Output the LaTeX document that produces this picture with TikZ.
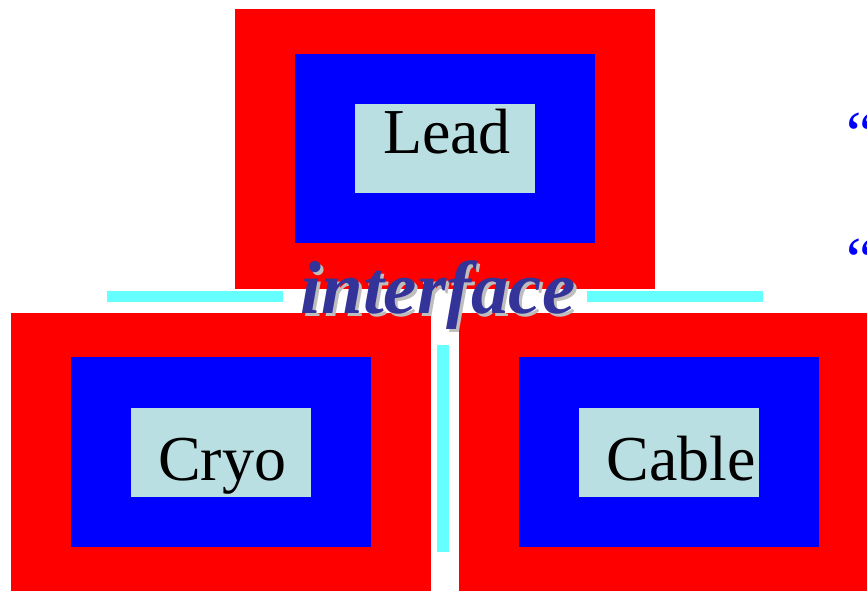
\documentclass[tikz,border=0pt]{standalone}
\usepackage{fontspec}
\setmainfont{Liberation Serif}
\definecolor{framered}{RGB}{255,0,0}
\definecolor{coreblue}{RGB}{0,0,255}
\definecolor{labelbg}{RGB}{186,223,227}
\definecolor{barcyan}{RGB}{102,255,255}
\definecolor{ifaceblue}{RGB}{51,51,153}
\definecolor{shadowgray}{RGB}{190,190,190}
\tikzset{
  panel/.style={fill=#1, draw=none, anchor=north west, inner sep=0pt, outer sep=0pt},
  boxlabel/.style={font=\fontsize{64}{70}\selectfont, text=black, anchor=base},
  bar/.style={fill=barcyan, draw=none},
  quote/.style={font=\fontsize{64}{70}\selectfont, text=coreblue, anchor=base west, inner sep=0pt},
  ifacetext/.style={font=\fontsize{75}{82}\selectfont\bfseries\itshape, anchor=base, inner sep=0pt},
}
\begin{document}
\begin{tikzpicture}[x=1pt, y=-1pt]
\useasboundingbox (0,0) rectangle (867,590);
\clip (0,0) rectangle (867,590);

% Top module: Lead
\node[panel=framered, minimum width=420pt, minimum height=280pt] (leadframe) at (235,9) {};
\node[panel=coreblue, minimum width=300pt, minimum height=189pt] (leadcore) at (295,54) {};
\node[panel=labelbg, minimum width=180pt, minimum height=89pt] (leadbg) at (355,104) {};
\node[boxlabel] (leadtxt) at (447,153) {Lead};

% Lower left module: Cryo
\node[panel=framered, minimum width=420pt, minimum height=280pt] (cryoframe) at (11,313) {};
\node[panel=coreblue, minimum width=300pt, minimum height=190pt] (cryocore) at (71,357) {};
\node[panel=labelbg, minimum width=180pt, minimum height=89pt] (cryobg) at (131,408) {};
\node[boxlabel] (cryotxt) at (222,480) {Cryo};

% Lower right module: Cable
\node[panel=framered, minimum width=420pt, minimum height=280pt] (cableframe) at (459,313) {};
\node[panel=coreblue, minimum width=300pt, minimum height=190pt] (cablecore) at (519,357) {};
\node[panel=labelbg, minimum width=180pt, minimum height=89pt] (cablebg) at (579,408) {};
\node[boxlabel] (cabletxt) at (681,480) {Cable};

% Interface bars
\fill[bar] (107,291) rectangle (283,302);
\fill[bar] (587,291) rectangle (763,302);
\fill[bar] (437,345) rectangle (449,552);

% Interface label with drop shadow
\node[ifacetext, text=shadowgray] (ifaceshadow) at (441,316) {interface};
\node[ifacetext, text=ifaceblue] (iface) at (438,313) {interface};

% Opening quotes at the right edge
\node[quote] (quoteone) at (846,155) {“};
\node[quote] (quotetwo) at (846,281) {“};
\end{tikzpicture}
\end{document}
